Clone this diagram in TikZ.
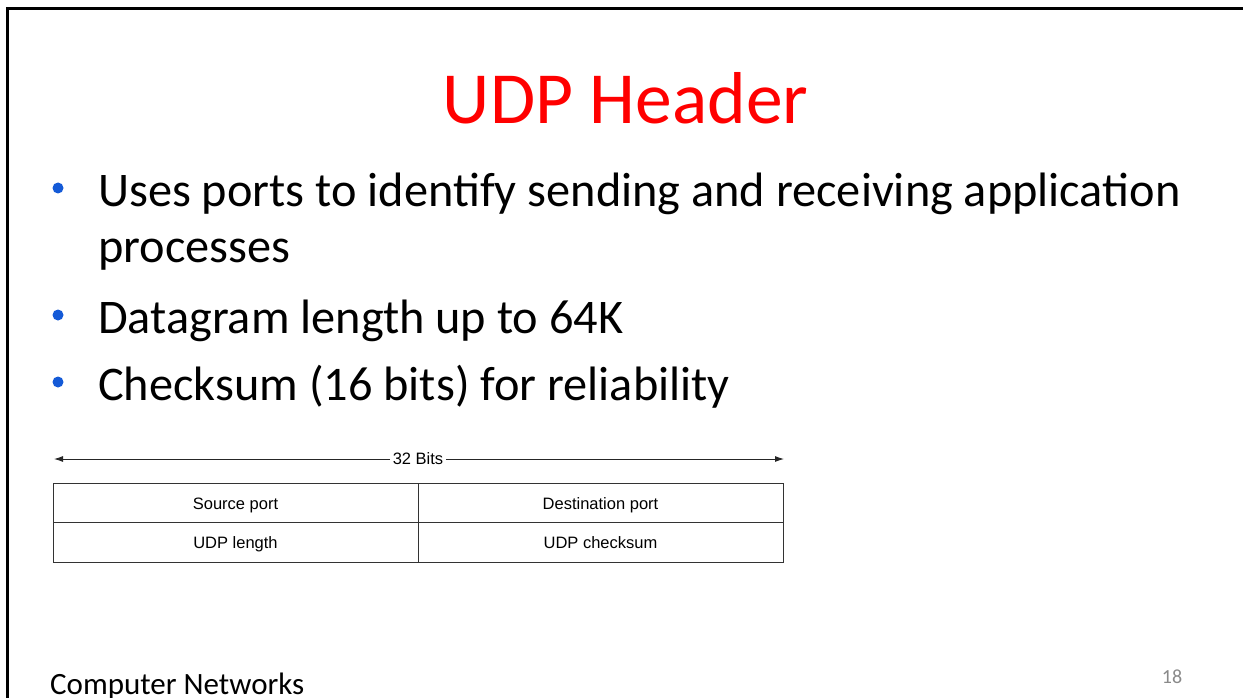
\documentclass[tikz,border=0pt]{standalone}
\usepackage{fontspec}
\setmainfont{Carlito}
\newfontfamily\tablefont{Liberation Sans}
\usepackage{xcolor}
\usetikzlibrary{arrows.meta}
\definecolor{bulletblue}{RGB}{20,90,215}
\definecolor{pagegray}{RGB}{137,137,137}
\tikzset{
  bullettext/.style={anchor=base west, inner sep=0pt, font=\fontsize{48.3}{58}\selectfont},
  bulletdot/.style={circle, fill=bulletblue, inner sep=0pt, minimum size=11pt},
  cell/.style={draw=black!80, line width=1pt, minimum width=365pt, minimum height=39.5pt, inner sep=0pt,
    text height=16pt, text depth=3.5pt, font=\tablefont\fontsize{16.5}{20}\selectfont},
  bitarrow/.style={-{Latex[length=9pt,width=6pt]}, line width=0.9pt, black!85},
}

\begin{document}
\begin{tikzpicture}[x=1pt,y=-1pt]
  \useasboundingbox (0,0) rectangle (1243,698);

  % Draw slide frame
  \draw[line width=3pt] (7,698) -- (7,9) -- (1243,9);

  % Title
  \node[red, anchor=base, inner sep=0pt, font=\fontsize{73.5}{80}\selectfont] (title) at (625.5,124) {UDP Header};

  % Bullet points
  \node[bulletdot] (dot1) at (58,188) {};
  \node[bullettext] (ports) at (98,207) {Uses ports to identify sending and receiving application};
  \node[bullettext] (procs) at (98,262) {processes};
  \node[bulletdot] (dot2) at (58,315) {};
  \node[bullettext] (length) at (98,333) {Datagram length up to 64K};
  \node[bulletdot] (dot3) at (58,382) {};
  \node[bullettext] (checksum) at (98,400) {Checksum (16 bits) for reliability};

  % Width arrow above the header
  \coordinate (bitsL) at (54,459);
  \coordinate (bitsR) at (784,459);
  \node[inner sep=2.5pt, font=\tablefont\fontsize{16.5}{20}\selectfont] (bits) at (418,459) {32 Bits};
  \draw[bitarrow] (bits) -- (bitsL);
  \draw[bitarrow] (bits) -- (bitsR);

  % Header fields
  \node[cell] (srcport) at (235.5,502.75) {Source port};
  \node[cell] (dstport) at (600.5,502.75) {Destination port};
  \node[cell] (udplen) at (235.5,542.25) {UDP length};
  \node[cell] (udpsum) at (600.5,542.25) {UDP checksum};

  % Footer
  \node[anchor=base west, inner sep=0pt, font=\fontsize{31}{36}\selectfont] (course) at (50,694) {Computer Networks};
  \node[anchor=base, inner sep=0pt, pagegray, font=\fontsize{20}{24}\selectfont] (pagenum) at (1172,683) {18};
\end{tikzpicture}
\end{document}
